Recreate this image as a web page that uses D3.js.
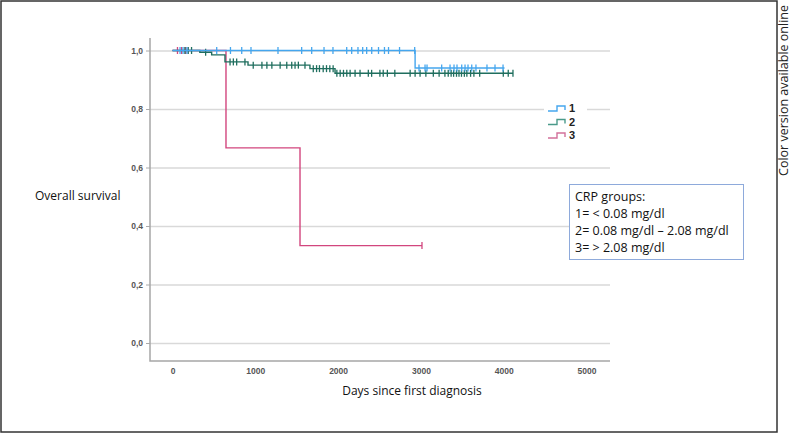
<!DOCTYPE html>
<html>
<head>
<meta charset="utf-8">
<script src="https://cdn.jsdelivr.net/npm/d3@7"></script>
<style>
  body { margin: 0; background: #fff; }
  svg { display: block; }
  .tick text { font-family: "Liberation Sans", sans-serif; font-size: 8.5px; font-weight: bold; fill: #555; }
</style>
</head>
<body>
<script>
// tick labels
var xTicks = [0, 1000, 2000, 3000, 4000, 5000];
var yTicks = [0, 0.2, 0.4, 0.6, 0.8, 1.0];

// group 1 (< 0.08 mg/dl): event steps [day, survival after] and censored days
var g1Events = [[2930, 0.94]];
var g1End = 4010;
var g1Censor = [91, 127, 175, 534, 700, 836, 948, 1274, 1560, 1681, 1830, 1938, 2104, 2164,
  2240, 2297, 2345, 2406, 2488, 2560, 2609, 2742, 2925, 2977, 3050, 3074, 3251, 3352, 3400,
  3436, 3493, 3533, 3569, 3614, 3665, 3798, 3895, 3992];

// group 2 (0.08 - 2.08 mg/dl)
var g2Events = [[330, 0.994], [473, 0.985], [634, 0.961], [912, 0.95], [1660, 0.938], [1963, 0.922]];
var g2End = 4112;
var g2Censor = [150, 190, 230, 400, 695, 735, 775, 875, 975, 1080, 1140, 1200, 1300, 1380,
  1440, 1480, 1520, 1600, 1700, 1740, 1775, 1820, 1860, 1900, 1940, 1985, 2025, 2065, 2105,
  2145, 2205, 2265, 2365, 2405, 2505, 2545, 2595, 2685, 2870, 2930, 2990, 3060, 3150, 3220,
  3290, 3330, 3365, 3395, 3430, 3460, 3490, 3525, 3555, 3600, 3640, 3710, 3995, 4055, 4112];

// group 3 (> 2.08 mg/dl)
var g3Events = [[646, 0.667], [1540, 0.333]];
var g3End = 3013;
var g3Censor = [60, 110, 160, 3013];

var legendLabels = ["1", "2", "3"];
var boxLines = ["CRP groups:", "1= < 0.08 mg/dl", "2= 0.08 mg/dl \u2013 2.08 mg/dl", "3= > 2.08 mg/dl"];

var colors = ["#45a6ee", "#1f6e5e", "#d2467e"];
var legendColors = ["#45a6ee", "#4a9a8a", "#d2709a"];

var w = 793, h = 434;
var plot = {left: 150, right: 610, top: 38, bottom: 361};

var svg = d3.select("body").append("svg")
  .attr("width", w)
  .attr("height", h);

// outer frame
svg.append("rect")
  .attr("x", 1).attr("y", 1)
  .attr("width", 776).attr("height", 431)
  .attr("fill", "none")
  .attr("stroke", "#333")
  .attr("stroke-width", 1.5);

var x = d3.scaleLinear().domain([0, 5000]).range([172.5, 586.5]);
var y = d3.scaleLinear().domain([0, 1]).range([343, 50.5]);

// gridlines
svg.append("g")
  .attr("transform", "translate(" + plot.left + ",0)")
  .call(d3.axisLeft(y).tickValues(yTicks).tickSize(-(plot.right - plot.left)).tickFormat(""))
  .call(function(g) {
    g.select(".domain").remove();
    g.selectAll("line").attr("stroke", "#d9d9d9").attr("stroke-width", 1.5);
  });

// y axis labels + ticks
svg.append("g")
  .attr("transform", "translate(" + plot.left + ",0)")
  .call(d3.axisLeft(y).tickValues(yTicks).tickSize(4).tickPadding(3)
    .tickFormat(function(d) { return d3.format(".1f")(d).replace(".", ","); }))
  .call(function(g) {
    g.select(".domain").remove();
    g.selectAll("line").attr("stroke", "#aaa");
  });

// x axis labels
svg.append("g")
  .attr("transform", "translate(0," + plot.bottom + ")")
  .call(d3.axisBottom(x).tickValues(xTicks).tickSize(0).tickPadding(7).tickFormat(d3.format("d")))
  .call(function(g) { g.select(".domain").remove(); });

// axis lines
svg.append("path")
  .attr("d", "M" + plot.left + "," + plot.top + "V" + plot.bottom + "H" + plot.right)
  .attr("fill", "none")
  .attr("stroke", "#a6a6a6")
  .attr("stroke-width", 1.5);

function survAt(events, t) {
  var s = 1;
  events.forEach(function(e) { if (e[0] <= t) s = e[1]; });
  return s;
}

var line = d3.line()
  .x(function(d) { return x(d[0]); })
  .y(function(d) { return y(d[1]); })
  .curve(d3.curveStepAfter);

var groups = [
  {events: g1Events, end: g1End, censor: g1Censor},
  {events: g2Events, end: g2End, censor: g2Censor},
  {events: g3Events, end: g3End, censor: g3Censor}
];

// draw 3 first, then 2, then 1 on top
[2, 1, 0].forEach(function(i) {
  var g = groups[i];
  var pts = [[0, 1]].concat(g.events).concat([[g.end, survAt(g.events, g.end)]]);
  svg.append("path")
    .attr("d", line(pts))
    .attr("fill", "none")
    .attr("stroke", colors[i])
    .attr("stroke-width", 1.4);

  svg.selectAll(".c" + i)
    .data(g.censor)
    .enter()
    .append("line")
    .attr("class", "c" + i)
    .attr("x1", function(d) { return x(d); })
    .attr("x2", function(d) { return x(d); })
    .attr("y1", function(d) { return y(survAt(g.events, d)) - 3.5; })
    .attr("y2", function(d) { return y(survAt(g.events, d)) + 3.5; })
    .attr("stroke", colors[i])
    .attr("stroke-width", 1.3);
});

// legend
var legend = svg.append("g").attr("transform", "translate(544,100)");
legend.append("rect")
  .attr("x", 0).attr("y", 0)
  .attr("width", 43).attr("height", 40)
  .attr("fill", "#fff");
legendLabels.forEach(function(lab, i) {
  var ly = 8 + i * 13.5;
  legend.append("path")
    .attr("d", "M4," + (ly + 3) + "H13V" + (ly - 2) + "H21V" + (ly + 2))
    .attr("fill", "none")
    .attr("stroke", legendColors[i])
    .attr("stroke-width", 1.4);
  legend.append("text")
    .attr("x", 25)
    .attr("y", ly + 4)
    .attr("font-family", "Liberation Sans, sans-serif")
    .attr("font-size", 11)
    .attr("font-weight", "bold")
    .attr("fill", "#222")
    .text(lab);
});

// CRP box
svg.append("rect")
  .attr("x", 569.5).attr("y", 184.5)
  .attr("width", 174).attr("height", 75)
  .attr("fill", "#fff")
  .attr("stroke", "#8eaadb")
  .attr("stroke-width", 1);
svg.selectAll(".boxline")
  .data(boxLines)
  .enter()
  .append("text")
  .attr("class", "boxline")
  .attr("x", 575)
  .attr("y", function(d, i) { return 201 + i * 17; })
  .attr("font-family", "Open Sans, sans-serif")
  .attr("font-size", 12.5)
  .attr("fill", "#111")
  .text(function(d) { return d; });

// axis titles
svg.append("text")
  .attr("x", 35)
  .attr("y", 200)
  .attr("font-family", "Open Sans, sans-serif")
  .attr("font-size", 12)
  .attr("fill", "#111")
  .text("Overall survival");

svg.append("text")
  .attr("x", 412)
  .attr("y", 395)
  .attr("text-anchor", "middle")
  .attr("font-family", "Open Sans, sans-serif")
  .attr("font-size", 12)
  .attr("fill", "#111")
  .text("Days since first diagnosis");

svg.append("text")
  .attr("transform", "translate(788,5) rotate(-90)")
  .attr("text-anchor", "end")
  .attr("font-family", "Open Sans, sans-serif")
  .attr("font-size", 12.5)
  .attr("fill", "#222")
  .text("Color version available online");
</script>
</body>
</html>
